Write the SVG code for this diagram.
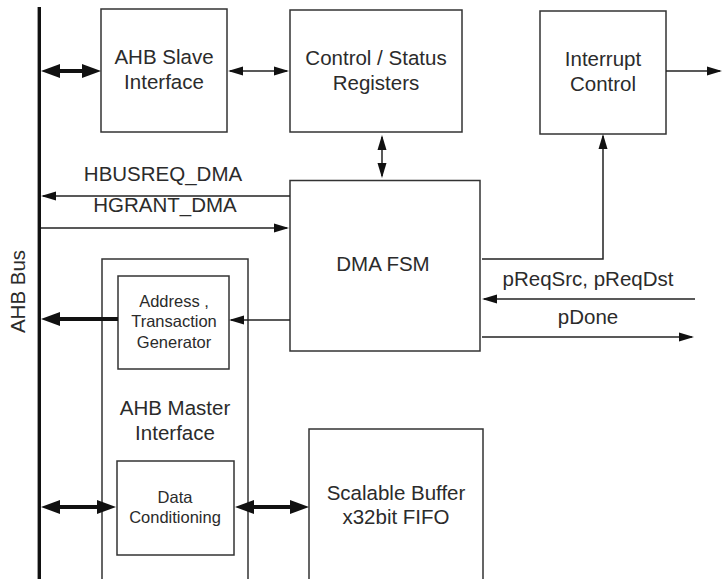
<svg xmlns="http://www.w3.org/2000/svg" width="723" height="579" viewBox="0 0 723 579">
<style>
.box{fill:none;stroke:#333;stroke-width:1.5}
.t{font-family:"Liberation Sans",Arial,sans-serif;font-size:20.5px;fill:#2b2b2b;text-anchor:middle}
.s{font-family:"Liberation Sans",Arial,sans-serif;font-size:16.5px;fill:#2b2b2b;text-anchor:middle}
.thin{fill:none;stroke:#222;stroke-width:1.5}
.thick{fill:none;stroke:#111;stroke-width:4}
</style>
<defs>
<marker id="ah" markerUnits="userSpaceOnUse" markerWidth="15" markerHeight="10" refX="13" refY="5" orient="auto-start-reverse" viewBox="0 0 15 10">
<path d="M0,0.5 L15,5 L0,9.5 z" fill="#111"/>
</marker>
<marker id="ab" markerUnits="userSpaceOnUse" markerWidth="19" markerHeight="16" refX="13" refY="8" orient="auto-start-reverse" viewBox="0 0 19 16">
<path d="M0,1 L19,8 L0,15 z" fill="#111"/>
</marker>
</defs>
<g id="bus">
<line x1="39.3" y1="7" x2="39.3" y2="580" stroke="#111" stroke-width="3.4"/>
<text class="t" transform="translate(25,291.5) rotate(-90)">AHB Bus</text>
</g>
<g id="slave">
<rect class="box" x="101" y="9" width="126" height="123"/>
<text class="t" x="164" y="64">AHB Slave</text>
<text class="t" x="164" y="89">Interface</text>
</g>
<g id="regs">
<rect class="box" x="290" y="10" width="172" height="122"/>
<text class="t" x="376" y="65">Control / Status</text>
<text class="t" x="376" y="90">Registers</text>
</g>
<g id="intr">
<rect class="box" x="540" y="11" width="126" height="123"/>
<text class="t" x="603" y="66">Interrupt</text>
<text class="t" x="603" y="91">Control</text>
</g>
<g id="fsm">
<rect class="box" x="290" y="180.5" width="190" height="170.5"/>
<text class="t" x="383" y="271">DMA FSM</text>
</g>
<g id="master">
<path class="box" d="M102,580 V259 H248 V580"/>
<text class="t" x="175" y="415">AHB Master</text>
<text class="t" x="175" y="440">Interface</text>
</g>
<g id="addr">
<rect class="box" x="118" y="276" width="111" height="93"/>
<text class="s" x="174" y="307">Address ,</text>
<text class="s" x="174" y="327">Transaction</text>
<text class="s" x="174" y="348">Generator</text>
</g>
<g id="datacond">
<rect class="box" x="117" y="461" width="117" height="94"/>
<text class="s" x="175" y="503">Data</text>
<text class="s" x="175" y="523">Conditioning</text>
</g>
<g id="buffer">
<path class="box" d="M309,580 V429 H483 V580"/>
<text class="t" x="396" y="500">Scalable Buffer</text>
<text class="t" x="396" y="524">x32bit FIFO</text>
</g>
<g id="labels">
<text class="t" x="163" y="181">HBUSREQ_DMA</text>
<text class="t" x="165" y="212">HGRANT_DMA</text>
<text class="t" x="588" y="286">pReqSrc, pReqDst</text>
<text class="t" x="588" y="324">pDone</text>
</g>
<g id="connectors">
<line class="thick" x1="47" y1="71" x2="95" y2="71" marker-start="url(#ab)" marker-end="url(#ab)"/>
<line class="thin" x1="230" y1="71" x2="287" y2="71" marker-start="url(#ah)" marker-end="url(#ah)"/>
<line class="thin" x1="666" y1="71" x2="720" y2="71" marker-end="url(#ah)"/>
<line class="thin" x1="382" y1="137" x2="382" y2="176" marker-start="url(#ah)" marker-end="url(#ah)"/>
<line class="thin" x1="290" y1="196" x2="43" y2="196" marker-end="url(#ah)"/>
<line class="thin" x1="41" y1="228" x2="287" y2="228" marker-end="url(#ah)"/>
<polyline class="thin" points="482,259 603,259 603,136" marker-end="url(#ah)"/>
<line class="thin" x1="695" y1="299" x2="484" y2="299" marker-end="url(#ah)"/>
<line class="thin" x1="482" y1="337" x2="692" y2="337" marker-end="url(#ah)"/>
<line class="thin" x1="290" y1="320" x2="231" y2="320" marker-end="url(#ah)"/>
<line class="thick" x1="118" y1="319" x2="47" y2="319" marker-end="url(#ab)"/>
<line class="thick" x1="47" y1="507" x2="110" y2="507" marker-start="url(#ab)" marker-end="url(#ab)"/>
<line class="thick" x1="241" y1="507" x2="303" y2="507" marker-start="url(#ab)" marker-end="url(#ab)"/>
</g>
</svg>
